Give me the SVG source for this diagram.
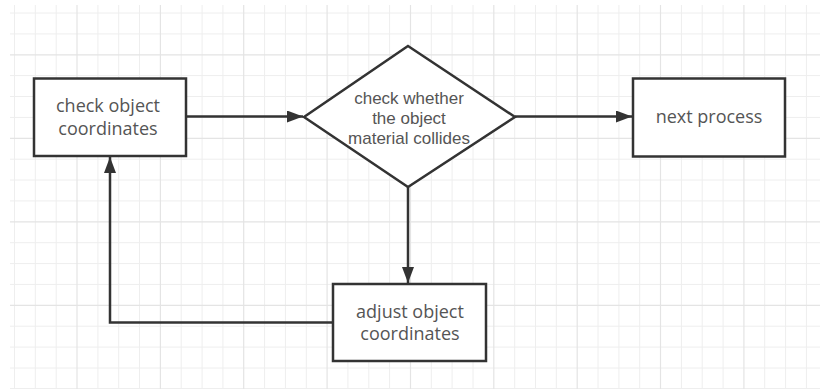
<svg xmlns="http://www.w3.org/2000/svg" width="820" height="389" viewBox="0 0 820 389">
<style>
.grid{fill:none;stroke:#eeeeee;stroke-width:1}
.grid2{fill:none;stroke:#e4e4e4;stroke-width:1.2}
.node{fill:#ffffff;stroke:#333333;stroke-width:2.5}
.edge{fill:none;stroke:#333333;stroke-width:2.5}
.label{font-family:"Open Sans","Noto Sans",sans-serif;font-size:18px;fill:#555555;text-anchor:middle}
.dlabel{font-family:"Liberation Sans",Arial,sans-serif;font-size:17px;fill:#555555;text-anchor:middle}
</style>
<defs>
<marker id="arr" viewBox="0 0 16 12" refX="16" refY="6" markerWidth="16" markerHeight="12" markerUnits="userSpaceOnUse" orient="auto">
<path d="M0,0 L16,6 L0,12 z" fill="#333333"/>
</marker>
</defs>
<rect x="0" y="0" width="820" height="389" fill="#ffffff"/>
<g id="grid">
<path class="grid" d="M14.5,5V389 M35.3,5V389 M56.2,5V389 M97.9,5V389 M118.7,5V389 M139.5,5V389 M181.2,5V389 M202.1,5V389 M222.9,5V389 M264.6,5V389 M285.4,5V389 M306.3,5V389 M347.9,5V389 M368.8,5V389 M389.6,5V389 M431.3,5V389 M452.1,5V389 M473,5V389 M514.7,5V389 M535.5,5V389 M556.3,5V389 M598,5V389 M618.9,5V389 M639.7,5V389 M681.4,5V389 M702.2,5V389 M723.1,5V389 M764.7,5V389 M785.6,5V389 M806.4,5V389 M10,13H820 M10,33.9H820 M10,75.6H820 M10,96.5H820 M10,117.4H820 M10,159.2H820 M10,180H820 M10,200.9H820 M10,242.7H820 M10,263.6H820 M10,284.4H820 M10,326.2H820 M10,347.1H820 M10,368H820 M10,388.5H820"/>
<path class="grid2" d="M77,5V389 M160.4,5V389 M243.7,5V389 M327.1,5V389 M410.5,5V389 M493.8,5V389 M577.2,5V389 M660.5,5V389 M743.9,5V389 M10,54.8H820 M10,138.3H820 M10,221.8H820 M10,305.3H820"/>
</g>
<g id="connectors">
<path class="edge" d="M186,116.5 H303" marker-end="url(#arr)"/>
<path class="edge" d="M515,116.5 H632" marker-end="url(#arr)"/>
<path class="edge" d="M408,187 V283" marker-end="url(#arr)"/>
<path class="edge" d="M333,322.5 H110 V157" marker-end="url(#arr)"/>
</g>
<g id="check-coords">
<rect class="node" x="34" y="78.5" width="152" height="77.5"/>
<text class="label" x="108" y="112">check object</text>
<text class="label" x="108" y="135">coordinates</text>
</g>
<g id="check-collision">
<polygon class="node" points="408,46 515,117 408,187 304,117"/>
<text class="dlabel" x="409" y="104">check whether</text>
<text class="dlabel" x="409" y="124">the object</text>
<text class="dlabel" x="409" y="144">material collides</text>
</g>
<g id="next-process">
<rect class="node" x="633" y="78.5" width="152" height="78"/>
<text class="label" x="709" y="123">next process</text>
</g>
<g id="adjust-coords">
<rect class="node" x="333" y="284" width="153" height="77"/>
<text class="label" x="410" y="318">adjust object</text>
<text class="label" x="410" y="340">coordinates</text>
</g>
</svg>
